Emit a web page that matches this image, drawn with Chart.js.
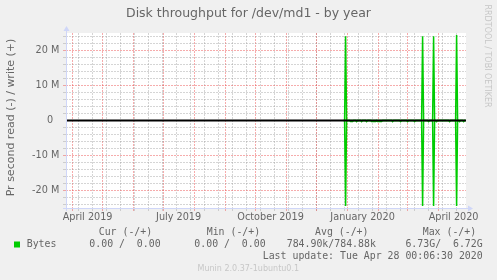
<!DOCTYPE html>
<html>
<head>
<meta charset="utf-8">
<script src="https://cdn.jsdelivr.net/npm/chart.js@4/dist/chart.umd.min.js"></script>
<style>
html,body{margin:0;padding:0;background:#f0f0f0}
#wrap{width:497px;height:280px}
</style>
</head>
<body>
<div id="wrap"><canvas id="c" width="497" height="280"></canvas></div>
<script>
'use strict';

// --- Data: one value per day, days counted from 2019-04-01, values in MB/s ---
const firstDay = 271;
const readM = [
  0, 0, -24.4, 0, 0, 0, 0, -0.3, -0.3, -0.3,
  0, 0, 0, -0.3, 0, 0, 0, 0, -0.3, 0,
  0, 0, 0, -0.3, 0, 0, 0, 0, -0.3, -0.3,
  -0.3, -0.3, -0.3, 0, -0.3, -0.3, -0.3, -0.3, -0.3, 0,
  0, 0, 0, 0, 0, 0, 0, 0, 0, -0.3,
  0, 0, 0, 0, 0, 0, 0, -0.3, 0, 0,
  0, 0, 0, 0, -0.3, 0, 0, 0, 0, 0,
  0, -0.3, 0, 0, 0, 0, 0, 0, 0, -24.4,
  0, 0, 0, 0, 0, -0.3, 0, 0, 0, 0,
  -24.4, 0, 0, -0.3, 0, 0, 0, 0, 0, 0,
  0, 0, 0, 0, 0, 0, -0.3, 0, 0, 0,
  0, 0, 0, -24.4, 0, 0, -0.3, 0, 0, 0,
  -0.3, 0, 0
];
const writeM = [
  0, 0, 24.1, 0, 0, 0, 0, 0, 0, 0,
  0, 0, 0, 0, 0, 0, 0, 0, 0, 0,
  0, 0, 0, 0, 0, 0, 0, 0, 0, 0,
  0, 0, 0, 0, 0, 0, 0, 0, 0, 0,
  0, 0, 0, 0, 0, 0, 0, 0, 0, 0,
  0, 0, 0, 0, 0, 0, 0, 0, 0, 0,
  0, 0, 0, 0, 0, 0, 0, 0, 0, 0,
  0, 0, 0, 0, 0, 0, 0, 0, 0, 24.1,
  0, 0, 0, 0, 0, 0, 0, 0, 0, 0,
  24.1, 0, 0, 0, 0, 0, 0, 0, 0, 0,
  0, 0, 0, 0, 0, 0, 0, 0, 0, 0,
  0, 0, 0, 24.4, 0, 0, 0, 0, 0, 0,
  0, 0, 0
];
const hruleY = 0;

// axis ranges / ticks
const xMin = -6.6, xMax = 393.4;
const yMin = -25, yMax = 25;
const yTickVals   = [20, 10, 0, -10, -20];
const yTickLabels = ['20 M', '10 M', '0\u2007', '-10 M', '-20 M'];
const xLabels     = ['April 2019', 'July 2019', 'October 2019', 'January 2020', 'April 2020'];
const xLabelDates = [[2019,4,16], [2019,7,16], [2019,10,16], [2020,1,16], [2020,4,16]];
const monthDates  = [[2019,4,1],[2019,5,1],[2019,6,1],[2019,7,1],[2019,8,1],[2019,9,1],[2019,10,1],
                     [2019,11,1],[2019,12,1],[2020,1,1],[2020,2,1],[2020,3,1],[2020,4,1]];

// legend
const legendHead = ['Cur (-/+)', 'Min (-/+)', 'Avg (-/+)', 'Max (-/+)'];
const legendVals = ['0.00 /  0.00', '0.00 /  0.00', '784.90k/784.88k', '6.73G/  6.72G'];
const seriesName = 'Bytes';
const lastUpdate = 'Last update: Tue Apr 28 00:06:30 2020';

const GREEN = '#00CC00';
const GREY  = 'rgba(150,150,150,0.4)';
const RED   = 'rgba(235,70,70,0.45)';
const FONTC = '#666666';
const AXISC = '#CFD6F8';

// --- Utils ---
function dayOf(d){ return (Date.UTC(d[0], d[1]-1, d[2]) - Date.UTC(2019,3,1)) / 864e5; }

const readPts  = readM.map((v,i)=> ({x:firstDay+i, y:v}));
const writePts = writeM.map((v,i)=> ({x:firstDay+i, y:v}));

// grid: minor every 2 weeks, major on month start, labels mid month
const xTicks = [];
for(let d=6; d<xMax; d+=14) xTicks.push({value:d, kind:'minor'});
monthDates.forEach(m=> xTicks.push({value:dayOf(m), kind:'major'}));
xLabelDates.forEach((m,i)=> xTicks.push({value:dayOf(m), kind:'label', text:xLabels[i]}));
xTicks.sort((a,b)=> a.value-b.value);

const yTicks = [];
for(let v=-24; v<=24; v+=2) yTicks.push({value:v});

// --- Munin style decorations ---
const muninPlugin = {
  id:'munin',
  beforeDraw(chart){
    const {ctx, chartArea:a} = chart;
    ctx.save();
    ctx.fillStyle = '#F0F0F0';
    ctx.fillRect(0,0,chart.width,chart.height);
    ctx.fillStyle = '#FFFFFF';
    ctx.fillRect(a.left, a.top, a.right-a.left, a.bottom-a.top);
    ctx.restore();
  },
  afterDraw(chart){
    const {ctx, chartArea:a} = chart;
    ctx.save();
    // axes + arrows
    ctx.strokeStyle = AXISC; ctx.fillStyle = AXISC; ctx.lineWidth = 1;
    ctx.beginPath();
    ctx.moveTo(a.left+0.5, a.bottom+3); ctx.lineTo(a.left+0.5, a.top-3);
    ctx.moveTo(a.left-3, a.bottom+0.5); ctx.lineTo(a.right+4, a.bottom+0.5);
    ctx.stroke();
    ctx.beginPath();
    ctx.moveTo(a.left+0.5, a.top-7); ctx.lineTo(a.left-2.5, a.top-2); ctx.lineTo(a.left+3.5, a.top-2); ctx.closePath();
    ctx.fill();
    ctx.beginPath();
    ctx.moveTo(a.right+7, a.bottom+0.5); ctx.lineTo(a.right+2, a.bottom-2.5); ctx.lineTo(a.right+2, a.bottom+3.5); ctx.closePath();
    ctx.fill();

    // title
    ctx.fillStyle = FONTC;
    ctx.textAlign = 'center'; ctx.textBaseline = 'middle';
    ctx.font = '12.5px "DejaVu Sans"';
    ctx.fillText('Disk throughput for /dev/md1 - by year', 248.5, 13.5);

    // unit label
    ctx.save();
    ctx.translate(11.5, 117.5); ctx.rotate(-Math.PI/2);
    ctx.font = '11px "DejaVu Sans"';
    ctx.fillText('Pr second read (-) / write (+)', 0, 0);
    ctx.restore();

    // rrdtool watermark
    ctx.save();
    ctx.translate(487, 56); ctx.rotate(Math.PI/2);
    ctx.font = '8px "DejaVu Sans"';
    ctx.fillStyle = 'rgba(102,102,102,0.3)';
    ctx.fillText('RRDTOOL / TOBI OETIKER', 0, 0);
    ctx.restore();

    // legend
    ctx.font = '9.9px "DejaVu Sans Mono"';
    ctx.textAlign = 'left';
    const headX = [98.7, 206.7, 315, 422.7];
    legendHead.forEach((t,i)=> ctx.fillText(t, headX[i], 232.7));
    ctx.fillStyle = GREEN;
    ctx.fillRect(14, 241.5, 6, 6);
    ctx.fillStyle = FONTC;
    ctx.fillText(seriesName, 26.7, 244.3);
    const valX = [89.3, 194.3, 286.7];
    legendVals.slice(0,3).forEach((t,i)=> ctx.fillText(t, valX[i], 244.3));
    ctx.textAlign = 'right';
    ctx.fillText(legendVals[3], 482.7, 244.3);
    ctx.fillText(lastUpdate, 482.7, 256.7);

    // munin watermark
    ctx.textAlign = 'center';
    ctx.font = '8px "DejaVu Sans"';
    ctx.fillStyle = 'rgba(102,102,102,0.3)';
    ctx.fillText('Munin 2.0.37-1ubuntu0.1', 248.3, 269.3);
    ctx.restore();
  }
};

// --- Chart ---
new Chart(document.getElementById('c'), {
  type:'line',
  data:{
    datasets:[
      { label:'read', data:readPts, borderColor:GREEN, borderWidth:1.5, pointRadius:0, tension:0, order:1 },
      { label:'write', data:writePts, borderColor:GREEN, borderWidth:1.5, pointRadius:0, tension:0, order:1 },
      { label:'zero', data:[{x:xMin,y:hruleY},{x:xMax,y:hruleY}], borderColor:'#000000', borderWidth:2, pointRadius:0, order:0 }
    ]
  },
  options:{
    responsive:false,
    animation:false,
    devicePixelRatio:1,
    layout:{ padding:{ left:0, top:33, right:31, bottom:0 } },
    plugins:{ legend:{display:false}, tooltip:{enabled:false}, title:{display:false} },
    scales:{
      x:{
        type:'linear', min:xMin, max:xMax,
        afterFit(s){ s.height = 72; },
        afterBuildTicks(s){ s.ticks = xTicks.map(t=> Object.assign({}, t)); },
        ticks:{
          autoSkip:false, maxRotation:0, padding:0.5, color:FONTC,
          font:{ family:'DejaVu Sans', size:9.7 },
          callback(v,i,t){ return t[i].text || ''; }
        },
        grid:{
          tickLength:3,
          color(c){ const k = c.tick && c.tick.kind; return k==='major' ? RED : (k==='minor' ? GREY : 'rgba(0,0,0,0)'); }
        },
        border:{ display:false, dash:[2,1] }
      },
      y:{
        type:'linear', min:yMin, max:yMax,
        afterFit(s){ s.width = 66; },
        afterBuildTicks(s){ s.ticks = yTicks.map(t=> Object.assign({}, t)); },
        ticks:{
          autoSkip:false, padding:3.7, color:FONTC,
          font:{ family:'DejaVu Sans', size:9.7 },
          callback(v){ const i = yTickVals.indexOf(v); return i<0 ? '' : yTickLabels[i]; }
        },
        grid:{
          tickLength:3,
          color(c){
            if(!c.tick) return GREY;
            const v = c.tick.value;
            if(v===0) return 'rgba(0,0,0,0)';
            return v%10===0 ? RED : GREY;
          }
        },
        border:{ display:false, dash:[2,1] }
      }
    }
  },
  plugins:[muninPlugin]
});
</script>
</body>
</html>
